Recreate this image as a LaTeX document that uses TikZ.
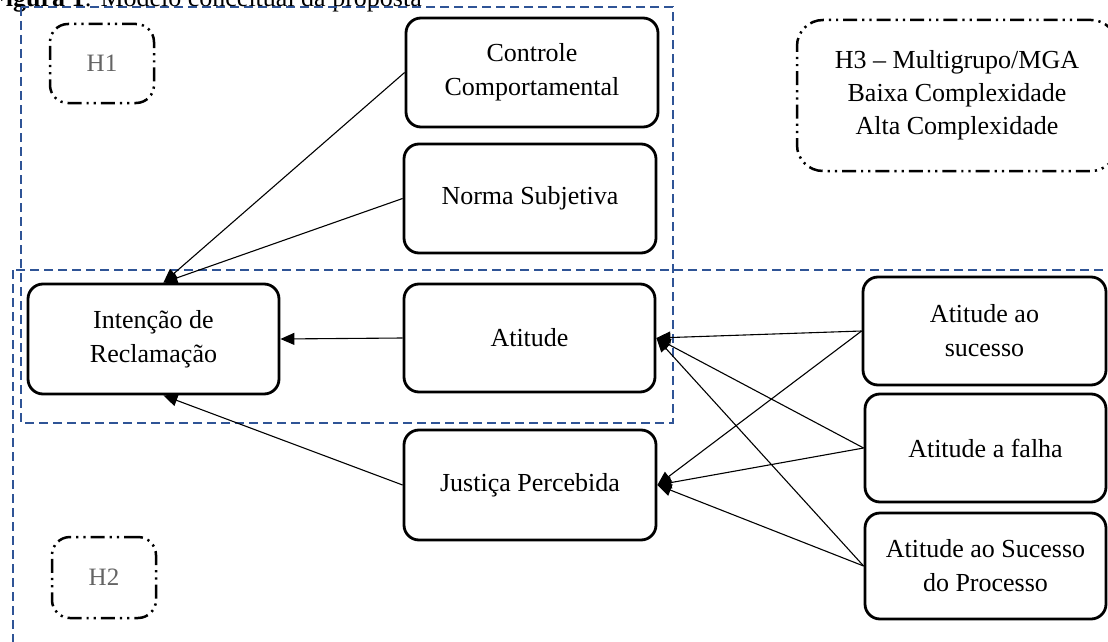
\documentclass[tikz,border=0pt]{standalone}
\usepackage{fontspec}
\setmainfont{Liberation Serif}
\usetikzlibrary{arrows.meta,calc}
\definecolor{hblue}{RGB}{47,84,150}
\definecolor{hgray}{RGB}{100,100,100}
\begin{document}
\begin{tikzpicture}[x=1pt,y=-1pt,
  box/.style={draw=black,line width=2.8pt,rounded corners=15pt,fill=white,align=center,
    font=\fontsize{26}{34}\selectfont,inner sep=0pt},
  hyp/.style={draw=black,line width=2.5pt,rounded corners=18pt,align=center,
    dash pattern=on 14pt off 5pt on 2.2pt off 5pt on 2.2pt off 5pt,inner sep=0pt},
  grp/.style={draw=hblue,line width=2.4pt,dash pattern=on 9pt off 5pt},
  conn/.style={draw=black,line width=1.1pt,-{Triangle[length=14pt,width=12pt]}}]
\useasboundingbox (0,0) rectangle (1108,642);
\fill[white] (0,0) rectangle (1108,642);
% caption (cut off at top, as in the reference)
\node[anchor=base east,inner sep=0pt,font=\fontsize{26}{34}\selectfont] (cap) at (422,7)
  {\textbf{Figura 1}: Modelo conceitual da proposta};
% group rectangles
\draw[grp] (21,7) rectangle (673,423);
\draw[grp] (13,270) rectangle (1120,660);
% hypothesis boxes
\node[hyp,minimum width=104pt,minimum height=79pt,text=hgray,font=\fontsize{25}{30}\selectfont] (h1) at (102,63.5) {H1};
\node[hyp,minimum width=104pt,minimum height=81pt,text=hgray,font=\fontsize{25}{30}\selectfont] (h2) at (104,577.5) {H2};
\node[hyp,rounded corners=26pt,minimum width=320pt,minimum height=151pt,font=\fontsize{26}{33}\selectfont] (h3) at (957,95.5)
  {H3 -- Multigrupo/MGA\\Baixa Complexidade\\Alta Complexidade};
% construct boxes
\node[box,minimum width=252pt,minimum height=109pt] (cc) at (532,72.5) {Controle\\Comportamental};
\node[box,minimum width=252pt,minimum height=109pt] (ns) at (530,198.5) {Norma Subjetiva};
\node[box,minimum width=251pt,minimum height=108pt] (at) at (529.5,338) {Atitude};
\node[box,minimum width=252pt,minimum height=110pt] (jp) at (530,485) {Justiça Percebida};
\node[box,minimum width=251pt,minimum height=110pt] (ir) at (153.5,339) {Intenção de\\Reclamação};
\node[box,minimum width=243pt,minimum height=108pt] (ats) at (984.5,331) {Atitude ao\\sucesso};
\node[box,minimum width=241pt,minimum height=108pt] (ataf) at (985.5,448) {Atitude a falha};
\node[box,minimum width=241pt,minimum height=106pt] (atsp) at (985.5,566) {Atitude ao Sucesso\\do Processo};
% connectors
\draw[conn] (cc.west) -- (ir.80);
\draw[conn] (ns.west) -- (ir.80);
\draw[conn] (at.west) -- (ir.east);
\draw[conn] (jp.west) -- (ir.-80);
\draw[conn] (ats.west) -- (at.east);
\draw[conn] (ats.west) -- (jp.east);
\draw[conn] (ataf.west) -- (at.east);
\draw[conn] (ataf.west) -- (jp.east);
\draw[conn] (atsp.west) -- (at.east);
\draw[conn] (atsp.west) -- (jp.east);
\end{tikzpicture}
\end{document}
